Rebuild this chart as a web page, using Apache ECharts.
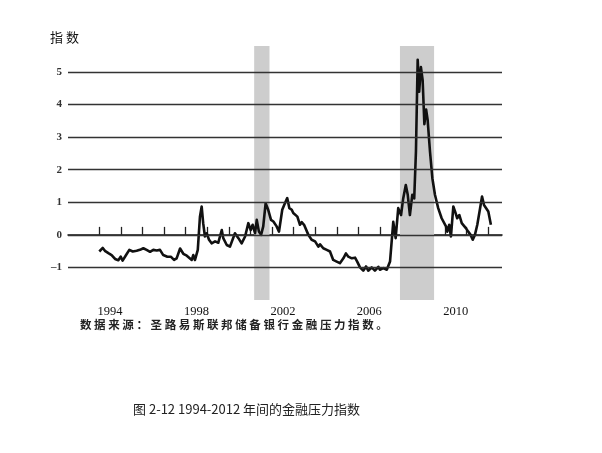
<!DOCTYPE html>
<html>
<head>
<meta charset="utf-8">
<script src="https://cdn.jsdelivr.net/npm/echarts@6/dist/echarts.min.js"></script>
<style>html,body{margin:0;padding:0;background:#fff;}#c{width:602px;height:453px;}</style>
</head>
<body>
<div id="c"></div>
<script>
// Decimal years of the readings
const years = [
1994.00,1994.16,1994.26,1994.42,1994.57,1994.73,1994.88,1994.99,1995.08,1995.24,
1995.39,1995.55,1995.73,1995.88,1996.04,1996.19,1996.35,1996.50,1996.66,1996.81,
1996.96,1997.15,1997.31,1997.46,1997.58,1997.74,1997.89,1998.05,1998.12,1998.28,
1998.35,1998.43,1998.56,1998.66,1998.74,1998.81,1998.89,1998.97,1999.08,1999.20,
1999.36,1999.51,1999.67,1999.74,1999.90,2000.05,2000.28,2000.44,2000.59,2000.75,
2000.90,2001.01,2001.10,2001.21,2001.29,2001.39,2001.49,2001.59,2001.70,2001.82,
2001.95,2002.06,2002.21,2002.32,2002.47,2002.56,2002.70,2002.80,2002.91,2002.98,
2003.06,2003.17,2003.29,2003.37,2003.48,2003.57,2003.68,2003.83,2003.99,2004.14,
2004.22,2004.37,2004.53,2004.68,2004.83,2004.99,2005.14,2005.30,2005.42,2005.53,
2005.69,2005.84,2005.94,2006.07,2006.22,2006.35,2006.45,2006.61,2006.76,2006.92,
2006.99,2007.15,2007.31,2007.46,2007.61,2007.72,2007.84,2007.97,2008.07,2008.19,
2008.28,2008.38,2008.49,2008.58,2008.66,2008.74,2008.81,2008.89,2008.97,2009.05,
2009.13,2009.20,2009.31,2009.42,2009.54,2009.69,2009.85,2009.93,2010.05,2010.11,
2010.20,2010.28,2010.39,2010.47,2010.57,2010.67,2010.78,2010.85,2010.98,2011.08,
2011.19,2011.29,2011.39,2011.50,2011.63,2011.72,2011.81,2011.90,2012.01,2012.13
];
// Financial stress index readings
const values = [
-0.51,-0.40,-0.49,-0.56,-0.62,-0.74,-0.78,-0.67,-0.79,-0.62,
-0.46,-0.51,-0.49,-0.46,-0.41,-0.46,-0.52,-0.46,-0.48,-0.46,
-0.62,-0.67,-0.67,-0.77,-0.72,-0.42,-0.58,-0.64,-0.67,-0.77,
-0.62,-0.77,-0.46,0.56,0.87,0.36,-0.05,0.05,-0.15,-0.26,
-0.20,-0.24,0.15,-0.10,-0.31,-0.36,0.05,-0.10,-0.26,-0.05,
0.36,0.15,0.31,0.05,0.46,0.10,0.00,0.26,0.97,0.77,
0.46,0.41,0.26,0.10,0.77,0.92,1.13,0.82,0.77,0.67,
0.72,0.56,0.31,0.39,0.31,0.36,0.00,-0.15,-0.20,-0.36,
-0.29,-0.41,-0.46,-0.51,-0.77,-0.82,-0.87,-0.72,-0.57,-0.67,
-0.72,-0.70,-0.82,-1.00,-1.10,-0.97,-1.10,-1.00,-1.10,-0.98,
-1.07,-1.02,-1.07,-0.82,0.40,-0.10,0.82,0.61,1.12,1.53,
1.23,0.61,1.23,1.12,2.56,5.38,4.40,5.15,4.75,3.40,
3.85,3.54,2.56,1.74,1.23,0.82,0.51,0.46,0.26,0.10,
0.31,-0.05,0.87,0.72,0.51,0.61,0.36,0.41,0.20,0.10,
0.00,-0.15,0.00,0.31,0.82,1.18,0.92,0.97,0.72,0.31
];
const yearTicks = [1994,1995,1996,1997,1998,1999,2000,2001,2002,2003,2004,2005,2006,2007,2008,2009,2010,2011,2012];
const yearLabels = [1994,1998,2002,2006,2010];
const gridValues = [-1,0,1,2,3,4,5];
const recessions = [[2001.17, 2001.88],[2007.92, 2009.5]];
const yTitle = '指 数';
const sourceNote = '数据来源：圣路易斯联邦储备银行金融压力指数。';
const caption = '图 2-12 1994-2012 年间的金融压力指数';

const chart = echarts.init(document.getElementById('c'), null, {renderer:'canvas'});
const seriesData = years.map((y,i)=>[y, values[i]]);
const spaced = sourceNote.split('').join(' ');

chart.setOption({
  animation:false,
  backgroundColor:'#fff',
  grid:{left:68,right:100,top:46,bottom:153,containLabel:false},
  xAxis:{
    type:'value', min:1992.551, max:2012.644,
    axisLine:{show:true,lineStyle:{color:'#111',width:1.5}},
    axisTick:{show:true,inside:true,length:8,customValues:yearTicks,lineStyle:{color:'#222',width:1.3}},
    axisLabel:{show:true,customValues:yearLabels.map(v=>v+0.5),formatter:v=>String(Math.floor(v)),
      fontFamily:'Liberation Serif',fontSize:12.5,color:'#111',margin:5},
    splitLine:{show:false}
  },
  yAxis:{
    type:'value', min:-2, max:5.8, interval:1,
    axisLine:{show:false}, axisTick:{show:false}, splitLine:{show:false},
    axisLabel:{customValues:gridValues,formatter:v=>v<0?('–'+Math.abs(v)):String(v),
      fontFamily:'Liberation Serif',fontWeight:'bold',fontSize:11,color:'#333',margin:6}
  },
  graphic:[
    {type:'text',left:50,top:31,style:{text:yTitle,fontFamily:'Noto Sans CJK SC',fontSize:13,fill:'#111'}},
    {type:'text',left:80,top:319,style:{text:spaced,fontFamily:'Noto Sans CJK SC',fontWeight:'bold',fontSize:11.5,fill:'#222'}},
    {type:'text',left:133,top:403,style:{text:caption,fontFamily:'Noto Sans CJK SC',fontSize:13,fill:'#222'}}
  ],
  series:[
    {type:'line',data:[],z:1,silent:true,
     markArea:{silent:true,itemStyle:{color:'#cdcdcd'},data:recessions.map(r=>[{xAxis:r[0]},{xAxis:r[1]}])}},
    {type:'line',data:[],z:2,silent:true,
     markLine:{silent:true,symbol:['none','none'],label:{show:false},lineStyle:{type:'solid',color:'#333',width:1.3},
       data:gridValues.map(v=>({yAxis:v}))}},
    {type:'line',data:seriesData,z:3,symbol:'none',smooth:false,
     lineStyle:{color:'#111',width:2.6,join:'round'}}
  ]
});
</script>
</body>
</html>
